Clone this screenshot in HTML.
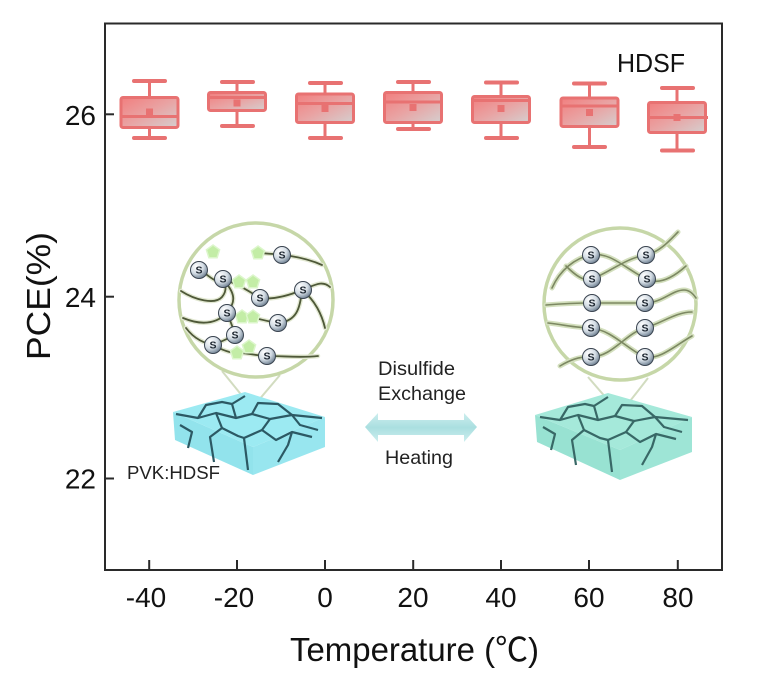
<!DOCTYPE html>
<html>
<head>
<meta charset="utf-8">
<style>
html,body{margin:0;padding:0;background:#fff;}
svg{display:block;}
text{font-family:"Liberation Sans","Noto Sans CJK SC",sans-serif;fill:#111;}
</style>
</head>
<body>
<svg width="778" height="676" viewBox="0 0 778 676" xmlns="http://www.w3.org/2000/svg">
<defs>
  <linearGradient id="bx" x1="0" y1="0" x2="1" y2="1">
    <stop offset="0" stop-color="#f27e7e"/>
    <stop offset="0.5" stop-color="#e9a3a3"/>
    <stop offset="1" stop-color="#d5cfcf"/>
  </linearGradient>
  <radialGradient id="ball" cx="0.35" cy="0.3" r="0.75">
    <stop offset="0" stop-color="#ffffff"/>
    <stop offset="0.55" stop-color="#d3dce4"/>
    <stop offset="1" stop-color="#6a7c8e"/>
  </radialGradient>
  <linearGradient id="arr" x1="0" y1="0" x2="0" y2="1">
    <stop offset="0" stop-color="#cdeeee"/>
    <stop offset="0.5" stop-color="#aadfe0"/>
    <stop offset="1" stop-color="#cdeeee"/>
  </linearGradient>
  <g id="S">
    <circle r="8.5" fill="url(#ball)" stroke="#3a4450" stroke-width="1"/>
    <text x="0" y="3.6" text-anchor="middle" font-size="10.5" font-weight="bold" style="fill:#1d2630">S</text>
  </g>
  <g id="P">
    <polygon points="0,-7 6.6,-2.2 4.1,5.7 -4.1,5.7 -6.6,-2.2" fill="#c3eda6" stroke="#dcf6cb" stroke-width="1.5"/>
  </g>
</defs>

<!-- Frame -->
<rect x="105" y="23.5" width="617" height="546.5" fill="none" stroke="#2a2a2a" stroke-width="2"/>
<g stroke="#2a2a2a" stroke-width="2">
  <line x1="105" y1="114.3" x2="114" y2="114.3"/>
  <line x1="105" y1="296.7" x2="114" y2="296.7"/>
  <line x1="105" y1="478.5" x2="114" y2="478.5"/>
  <line x1="149.2" y1="570" x2="149.2" y2="560"/>
  <line x1="237" y1="570" x2="237" y2="560"/>
  <line x1="325" y1="570" x2="325" y2="560"/>
  <line x1="413.2" y1="570" x2="413.2" y2="560"/>
  <line x1="501" y1="570" x2="501" y2="560"/>
  <line x1="589" y1="570" x2="589" y2="560"/>
  <line x1="677.8" y1="570" x2="677.8" y2="560"/>
</g>
<g font-size="28" text-anchor="end">
  <text x="96" y="125">26</text>
  <text x="96" y="307">24</text>
  <text x="96" y="488.5">22</text>
</g>
<g font-size="28" text-anchor="middle">
  <text x="146" y="607">-40</text>
  <text x="234" y="607">-20</text>
  <text x="325" y="607">0</text>
  <text x="413" y="607">20</text>
  <text x="501" y="607">40</text>
  <text x="589" y="607">60</text>
  <text x="678" y="607">80</text>
</g>
<text x="290" y="661" font-size="33" textLength="249" lengthAdjust="spacingAndGlyphs">Temperature (℃)</text>
<text transform="translate(50,296) rotate(-90)" x="0" y="0" font-size="33" text-anchor="middle" textLength="128" lengthAdjust="spacingAndGlyphs">PCE(%)</text>
<text x="617" y="72" font-size="26" textLength="68" lengthAdjust="spacingAndGlyphs">HDSF</text>

<!-- Boxes -->
<g stroke="#e87272" fill="none">
  <g>
    <line x1="149.5" y1="81" x2="149.5" y2="138" stroke-width="3"/>
    <line x1="134" y1="81" x2="165" y2="81" stroke-width="4" stroke-linecap="round"/>
    <line x1="134" y1="138" x2="165" y2="138" stroke-width="4" stroke-linecap="round"/>
    <rect x="121" y="97.5" width="57" height="30" fill="url(#bx)" stroke-width="3" rx="2"/>
    <line x1="121" y1="116.5" x2="178" y2="116.5" stroke-width="3"/>
    <rect x="146" y="108.5" width="7" height="7" fill="#e87272" stroke="none"/>
  </g>
  <g>
    <line x1="237" y1="82" x2="237" y2="126" stroke-width="3"/>
    <line x1="222" y1="82" x2="253" y2="82" stroke-width="4" stroke-linecap="round"/>
    <line x1="222" y1="126" x2="253" y2="126" stroke-width="4" stroke-linecap="round"/>
    <rect x="208.5" y="92.5" width="57" height="18" fill="url(#bx)" stroke-width="3" rx="2"/>
    <line x1="208.5" y1="97.5" x2="265.5" y2="97.5" stroke-width="3"/>
    <rect x="233.5" y="99.5" width="7" height="7" fill="#e87272" stroke="none"/>
  </g>
  <g>
    <line x1="325" y1="83" x2="325" y2="138" stroke-width="3"/>
    <line x1="310" y1="83" x2="341" y2="83" stroke-width="4" stroke-linecap="round"/>
    <line x1="310" y1="138" x2="341" y2="138" stroke-width="4" stroke-linecap="round"/>
    <rect x="296.5" y="94" width="57" height="28.5" fill="url(#bx)" stroke-width="3" rx="2"/>
    <line x1="296.5" y1="103.5" x2="353.5" y2="103.5" stroke-width="3"/>
    <rect x="321.5" y="105" width="7" height="7" fill="#e87272" stroke="none"/>
  </g>
  <g>
    <line x1="413" y1="82" x2="413" y2="129" stroke-width="3"/>
    <line x1="398" y1="82" x2="429" y2="82" stroke-width="4" stroke-linecap="round"/>
    <line x1="398" y1="129" x2="429" y2="129" stroke-width="4" stroke-linecap="round"/>
    <rect x="384.5" y="92.5" width="57" height="30" fill="url(#bx)" stroke-width="3" rx="2"/>
    <line x1="384.5" y1="102" x2="441.5" y2="102" stroke-width="3"/>
    <rect x="409.5" y="104" width="7" height="7" fill="#e87272" stroke="none"/>
  </g>
  <g>
    <line x1="501" y1="82.5" x2="501" y2="138" stroke-width="3"/>
    <line x1="486" y1="82.5" x2="517" y2="82.5" stroke-width="4" stroke-linecap="round"/>
    <line x1="486" y1="138" x2="517" y2="138" stroke-width="4" stroke-linecap="round"/>
    <rect x="472.5" y="96.5" width="57" height="26" fill="url(#bx)" stroke-width="3" rx="2"/>
    <line x1="472.5" y1="100.5" x2="529.5" y2="100.5" stroke-width="3"/>
    <rect x="497.5" y="105" width="7" height="7" fill="#e87272" stroke="none"/>
  </g>
  <g>
    <line x1="589.5" y1="83.5" x2="589.5" y2="147" stroke-width="3"/>
    <line x1="574" y1="83.5" x2="605" y2="83.5" stroke-width="4" stroke-linecap="round"/>
    <line x1="574" y1="147" x2="605" y2="147" stroke-width="4" stroke-linecap="round"/>
    <rect x="561" y="98" width="57" height="28.5" fill="url(#bx)" stroke-width="3" rx="2"/>
    <line x1="561" y1="106" x2="618" y2="106" stroke-width="3"/>
    <rect x="586" y="109" width="7" height="7" fill="#e87272" stroke="none"/>
  </g>
  <g>
    <line x1="677" y1="88" x2="677" y2="150.5" stroke-width="3"/>
    <line x1="662" y1="88" x2="693" y2="88" stroke-width="4" stroke-linecap="round"/>
    <line x1="662" y1="150.5" x2="693" y2="150.5" stroke-width="4" stroke-linecap="round"/>
    <rect x="648.5" y="102.5" width="57" height="30" fill="url(#bx)" stroke-width="3" rx="2"/>
    <line x1="648.5" y1="117.5" x2="708" y2="117.5" stroke-width="3"/>
    <rect x="673.5" y="114" width="7" height="7" fill="#e87272" stroke="none"/>
  </g>
</g>

<!-- Left illustration -->
<g stroke="#d2dcc0" stroke-width="2" fill="none">
  <line x1="222" y1="371" x2="252" y2="408"/>
  <line x1="280" y1="375" x2="252" y2="408"/>
</g>
<g>
  <polygon points="173,412 175,440 253,475 253,447" fill="#92e3ec"/>
  <polygon points="253,447 253,475 325,447 325,417" fill="#98e6ef"/>
  <polygon points="173,412 245,392 325,417 253,447" fill="#9ceaf2"/>
  <g stroke="#2c5964" stroke-width="2.2" fill="none" stroke-linejoin="round">
    <polyline points="176,414 198,418 216,413 236,418 252,414 270,419 292,415 322,418"/>
    <polyline points="198,418 206,405 222,402 232,404"/>
    <polyline points="236,418 232,404 245,396"/>
    <polyline points="252,414 258,403 278,404 292,415"/>
    <polyline points="270,419 262,430 276,440 292,432 312,437"/>
    <polyline points="216,413 222,428 210,437 214,462"/>
    <polyline points="262,430 244,438 248,470"/>
    <polyline points="292,432 288,445 278,462"/>
    <polyline points="180,425 192,432 188,448"/>
    <polyline points="222,428 238,436 244,438"/>
    <polyline points="292,415 300,425 318,430"/>
  </g>
</g>
<circle cx="256" cy="300" r="77" fill="#fff" stroke="#c6d7a8" stroke-width="3.5"/>
<g fill="none" stroke-linecap="round">
  <g stroke="#e2e8d2" stroke-width="4.5">
    <path d="M181,291 C195,300 215,305 222,297 C228,290 225,282 223,279"/>
    <path d="M199,270 C210,275 215,285 223,279"/>
    <path d="M223,279 C240,285 250,292 260,298 C275,300 290,295 302,290 C315,285 322,280 330,287"/>
    <path d="M302,290 C300,310 296,320 280,323 C265,322 255,316 241,317"/>
    <path d="M302,290 C315,300 322,315 325,328"/>
    <path d="M258,253 C275,254 300,255 322,265"/>
    <path d="M183,318 C200,325 215,325 227,313 C235,303 236,295 226,283"/>
    <path d="M227,313 C232,325 234,330 235,335 C225,340 218,343 213,345"/>
    <path d="M213,345 C222,350 230,353 237,353 C250,353 258,356 267,356 C285,356 300,358 318,356"/>
    <path d="M186,328 C195,340 205,343 213,345"/>
  </g>
  <g stroke="#4e5838" stroke-width="1.8">
    <path d="M181,291 C195,300 215,305 222,297 C228,290 225,282 223,279"/>
    <path d="M199,270 C210,275 215,285 223,279"/>
    <path d="M223,279 C240,285 250,292 260,298 C275,300 290,295 302,290 C315,285 322,280 330,287"/>
    <path d="M302,290 C300,310 296,320 280,323 C265,322 255,316 241,317"/>
    <path d="M302,290 C315,300 322,315 325,328"/>
    <path d="M258,253 C275,254 300,255 322,265"/>
    <path d="M183,318 C200,325 215,325 227,313 C235,303 236,295 226,283"/>
    <path d="M227,313 C232,325 234,330 235,335 C225,340 218,343 213,345"/>
    <path d="M213,345 C222,350 230,353 237,353 C250,353 258,356 267,356 C285,356 300,358 318,356"/>
    <path d="M186,328 C195,340 205,343 213,345"/>
  </g>
</g>
<use href="#P" x="213" y="252"/>
<use href="#P" x="258" y="253"/>
<use href="#P" x="239" y="282"/>
<use href="#P" x="253" y="282"/>
<use href="#P" x="242" y="317"/>
<use href="#P" x="253" y="317"/>
<use href="#P" x="237" y="353"/>
<use href="#P" x="249" y="347"/>
<use href="#S" x="282" y="255"/>
<use href="#S" x="199" y="270"/>
<use href="#S" x="223" y="279"/>
<use href="#S" x="303" y="290"/>
<use href="#S" x="260" y="298"/>
<use href="#S" x="227" y="313"/>
<use href="#S" x="278" y="323"/>
<use href="#S" x="235" y="335"/>
<use href="#S" x="213" y="345"/>
<use href="#S" x="267" y="356"/>

<text x="127" y="479" font-size="18.5" style="fill:#222" textLength="93" lengthAdjust="spacingAndGlyphs">PVK:HDSF</text>

<polygon points="365,427 378,413 378,420 464,420 464,413 477,427 464,442 464,435 378,435 378,442" fill="url(#arr)"/>
<text x="378" y="375" font-size="19.5" style="fill:#222" textLength="77" lengthAdjust="spacingAndGlyphs">Disulfide</text>
<text x="378" y="400" font-size="19.5" style="fill:#222" textLength="88" lengthAdjust="spacingAndGlyphs">Exchange</text>
<text x="385" y="464" font-size="19.5" style="fill:#222" textLength="68" lengthAdjust="spacingAndGlyphs">Heating</text>

<!-- Right illustration -->
<g stroke="#d2dcc0" stroke-width="2" fill="none">
  <line x1="588" y1="377" x2="620" y2="414"/>
  <line x1="648" y1="378" x2="620" y2="414"/>
</g>
<g>
  <polygon points="535,415 537,442 620,480 620,450" fill="#98e2d2"/>
  <polygon points="620,450 620,480 692,452 692,417" fill="#9ee5d6"/>
  <polygon points="535,415 608,393 692,417 620,450" fill="#a5e9da"/>
  <g stroke="#386866" stroke-width="2.2" fill="none" stroke-linejoin="round">
    <polyline points="540,417 560,420 578,415 598,420 615,416 634,421 655,417 688,420"/>
    <polyline points="560,420 568,407 585,404 594,406"/>
    <polyline points="598,420 594,406 608,397"/>
    <polyline points="615,416 622,405 642,406 655,417"/>
    <polyline points="634,421 626,432 640,442 656,434 676,439"/>
    <polyline points="578,415 584,430 572,440 576,465"/>
    <polyline points="626,432 608,440 612,472"/>
    <polyline points="656,434 652,447 642,465"/>
    <polyline points="543,427 555,434 551,450"/>
    <polyline points="584,430 600,438 608,440"/>
    <polyline points="655,417 664,427 682,432"/>
  </g>
</g>
<circle cx="620" cy="304" r="76" fill="#fff" stroke="#c6d7a8" stroke-width="3.5"/>
<g fill="none" stroke-linecap="round">
  <g stroke="#d3dfbd" stroke-width="5">
    <path d="M552,288 C560,270 575,258 591,255 C610,252 622,266 646,279 C660,286 676,275 686,266"/>
    <path d="M566,266 C575,275 584,282 592,279 C610,272 626,258 646,255 C660,252 670,240 678,232"/>
    <path d="M546,305 C570,303 580,303 592,303 L645,303 C662,303 672,290 684,290 C690,290 694,295 696,298"/>
    <path d="M548,323 C565,325 578,328 591,328 C612,330 628,350 645,357 C660,360 676,345 692,336"/>
    <path d="M560,366 C570,360 580,356 591,357 C612,357 626,333 645,328 C662,323 676,312 692,312"/>
  </g>
  <g stroke="#7c8862" stroke-width="1.6">
    <path d="M552,288 C560,270 575,258 591,255 C610,252 622,266 646,279 C660,286 676,275 686,266"/>
    <path d="M566,266 C575,275 584,282 592,279 C610,272 626,258 646,255 C660,252 670,240 678,232"/>
    <path d="M546,305 C570,303 580,303 592,303 L645,303 C662,303 672,290 684,290 C690,290 694,295 696,298"/>
    <path d="M548,323 C565,325 578,328 591,328 C612,330 628,350 645,357 C660,360 676,345 692,336"/>
    <path d="M560,366 C570,360 580,356 591,357 C612,357 626,333 645,328 C662,323 676,312 692,312"/>
  </g>
</g>
<use href="#S" x="591" y="255"/>
<use href="#S" x="646" y="255"/>
<use href="#S" x="592" y="279"/>
<use href="#S" x="647" y="279"/>
<use href="#S" x="592" y="303"/>
<use href="#S" x="645" y="303"/>
<use href="#S" x="591" y="328"/>
<use href="#S" x="645" y="328"/>
<use href="#S" x="591" y="357"/>
<use href="#S" x="645" y="357"/>
</svg>
</body>
</html>
